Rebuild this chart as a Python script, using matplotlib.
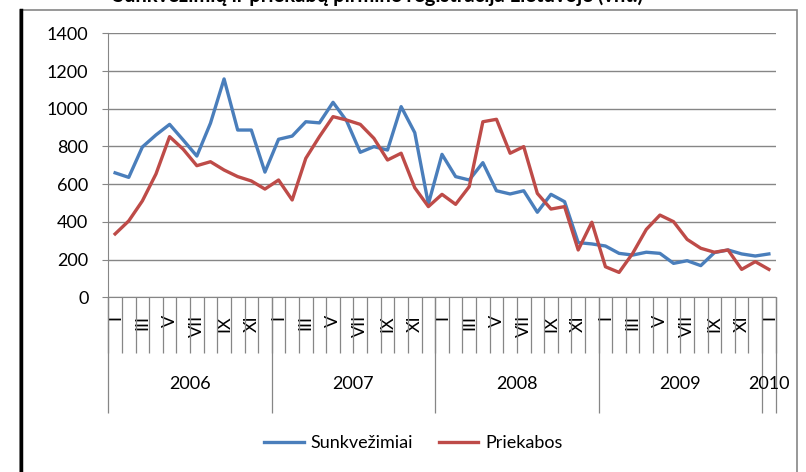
import numpy as np
import matplotlib
matplotlib.use('Agg')
from matplotlib import pyplot as plt
from matplotlib.patches import Rectangle
from matplotlib.lines import Line2D

plt.rcParams['font.family'] = ['Lato', 'DejaVu Sans']

# menesiai 2006-01 .. 2010-01
years = ['2006', '2007', '2008', '2009', '2010']
months = ['I', 'II', 'III', 'IV', 'V', 'VI', 'VII', 'VIII', 'IX', 'X', 'XI', 'XII']
sunkvezimiai = [660, 636, 797, 861, 917, 834, 749, 923, 1158, 887, 887, 664,
                838, 855, 931, 925, 1034, 935, 769, 799, 781, 1011, 873, 495,
                758, 640, 622, 714, 565, 548, 565, 451, 546, 507, 290, 283,
                272, 233, 224, 239, 233, 180, 194, 168, 237, 251, 230, 219,
                230]
priekabos = [336, 405, 511, 654, 852, 785, 698, 719, 675, 640, 617, 574,
             622, 516, 737, 852, 958, 940, 917, 843, 728, 764, 581, 481,
             546, 493, 587, 931, 944, 764, 799, 551, 468, 481, 251, 398,
             162, 132, 233, 360, 436, 401, 307, 260, 239, 251, 148, 189,
             148]

n = len(sunkvezimiai)
x = np.arange(n) + 0.5
labels = [months[i % 12] if i % 2 == 0 else '' for i in range(n)]

W, H = 806, 472
fig = plt.figure(figsize=(W / 100, H / 100), dpi=100)
ax = fig.add_axes([108.3 / W, 1 - 297.3 / H, (775.7 - 108.3) / W, (297.3 - 33.3) / H])

grey = '#868686'
ax.plot(x, sunkvezimiai, color='#4a7ebb', lw=2.4, label='Sunkvežimiai')
ax.plot(x, priekabos, color='#be4b48', lw=2.4, label='Priekabos')

ax.set_xlim(0, n)
ax.set_ylim(0, 1400)
ax.set_yticks(range(0, 1401, 200))
ax.yaxis.grid(True, color=grey, lw=1)
ax.set_axisbelow(True)
for s in ['top', 'right']:
    ax.spines[s].set_visible(False)
for s in ['left', 'bottom']:
    ax.spines[s].set_color(grey)
ax.tick_params(axis='y', length=4.3, color=grey, pad=10, labelsize=13)

ax.set_xticks(x, labels, rotation=90)
ax.set_xticks(np.arange(n + 1), minor=True)
ax.tick_params(axis='x', which='major', length=0, pad=13, labelsize=13)
ax.tick_params(axis='x', which='minor', length=40, color=grey, width=0.9)

# metu skirtukai
sec = ax.secondary_xaxis('bottom')
sec.set_xticks([0, 12, 24, 36, 48, n])
sec.set_xticklabels([''] * 6)
sec.tick_params(length=83.5, color=grey, width=0.9)
sec.spines['bottom'].set_visible(False)

sec2 = ax.secondary_xaxis('bottom')
sec2.set_xticks([6, 18, 30, 42, 48.5], years)
sec2.tick_params(length=0, pad=57, labelsize=13)
sec2.spines['bottom'].set_visible(False)

fig.legend(loc='center', bbox_to_anchor=(0.513, 1 - 443 / H), ncol=2, frameon=False,
           fontsize=13, handlelength=2.2, handletextpad=0.4, columnspacing=1.4)

fig.add_artist(Rectangle((20 / W, -0.1), (797 - 20) / W, 1.1 - 10 / H,
                         transform=fig.transFigure, fill=False, ec=grey, lw=1.2))
fig.add_artist(Line2D([20.5 / W, 20.5 / W], [0, 1 - 10 / H], transform=fig.transFigure,
                      color='black', lw=2.5))

# pavadinimas nukirptas virsuje, kaip originale
fig.text(378 / W, 1 - 2.5 / H, 'Sunkvežimių ir priekabų pirminė registracija Lietuvoje (vnt.)',
         ha='center', va='baseline', fontsize=14.5, fontweight='bold')

fig.savefig('out.png', dpi=100)
